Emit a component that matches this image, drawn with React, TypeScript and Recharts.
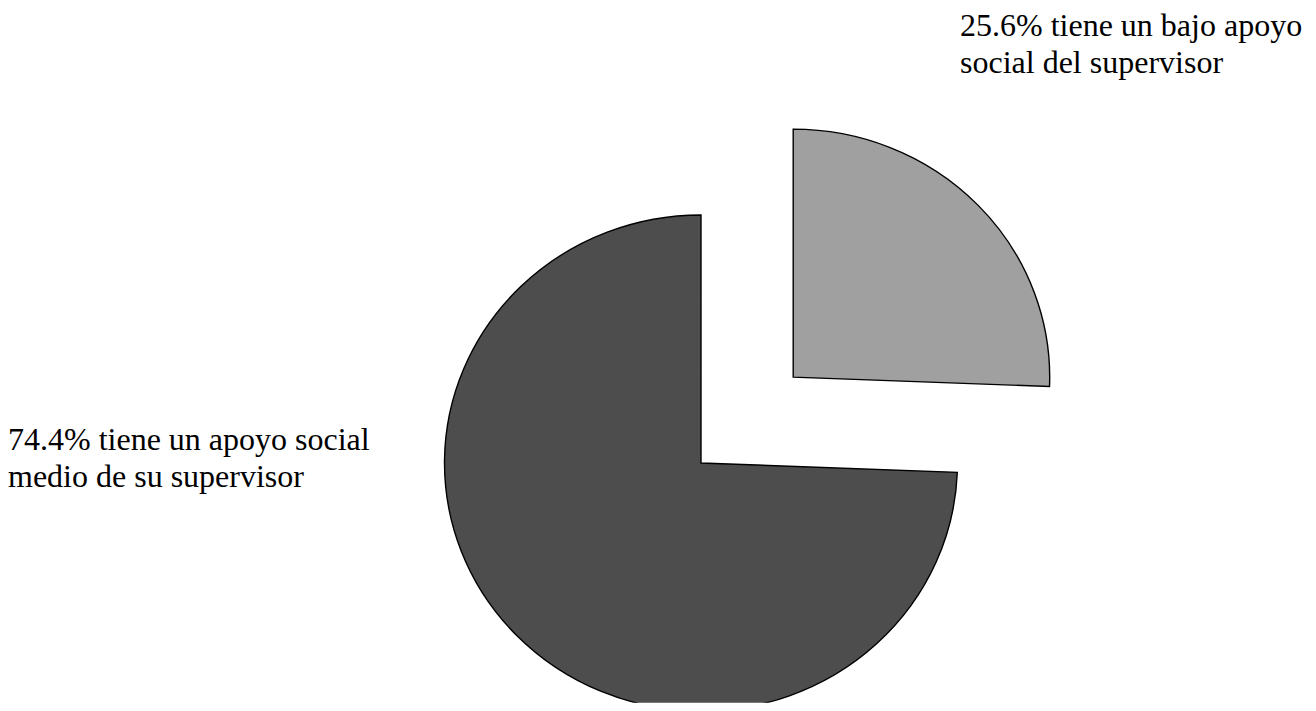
import { Cell, Pie, PieChart } from 'recharts'

const categories = ['Apoyo social bajo', 'Apoyo social medio']
const values = [25.6, 74.4]
const sliceColors = ['#a0a0a0', '#4d4d4d']
const labelLines = [
  ['25.6% tiene un bajo apoyo', 'social del supervisor'],
  ['74.4% tiene un apoyo social', 'medio de su supervisor'],
]

const data = categories.map((name, i) => ({ name, value: values[i] }))

const W = 1316
const H = 711
const CX = 701
const CY = 463
const RADIUS = 256.5
const EXPLODE = 128

// the first slice is pulled out along its middle angle
const total = values.reduce((a, b) => a + b, 0)
const midAngle = 90 - (values[0] / total) * 180
const rad = (midAngle * Math.PI) / 180
const cxOut = CX + EXPLODE * Math.cos(rad)
const cyOut = CY - EXPLODE * Math.sin(rad)

const textStyle: React.CSSProperties = {
  position: 'absolute',
  fontFamily: '"Liberation Serif", "Times New Roman", serif',
  fontSize: 32,
  lineHeight: '36.5px',
  color: '#000',
  whiteSpace: 'nowrap',
}

export default function App() {
  return (
    <div style={{ position: 'absolute', left: 0, top: 0, width: W, height: H, background: '#fff' }}>
      <div
        style={{
          position: 'absolute',
          left: 0,
          top: 0,
          transform: `scaleY(${248 / 256.5})`,
          transformOrigin: `0 ${CY}px`,
        }}
      >
        <PieChart width={W} height={H} margin={{ top: 0, right: 0, bottom: 0, left: 0 }}>
          <Pie
            data={data}
            dataKey="value"
            cx={CX}
            cy={CY}
            outerRadius={RADIUS}
            startAngle={90}
            endAngle={-270}
            isAnimationActive={false}
          >
            {data.map((d, i) => (
              <Cell
                key={d.name}
                fill={i === 0 ? 'none' : sliceColors[i]}
                stroke={i === 0 ? 'none' : '#000'}
                strokeWidth={1.4}
              />
            ))}
          </Pie>
          <Pie
            data={data}
            dataKey="value"
            cx={cxOut}
            cy={cyOut}
            outerRadius={RADIUS}
            startAngle={90}
            endAngle={-270}
            isAnimationActive={false}
          >
            {data.map((d, i) => (
              <Cell
                key={d.name}
                fill={i === 0 ? sliceColors[i] : 'none'}
                stroke={i === 0 ? '#000' : 'none'}
                strokeWidth={1.4}
              />
            ))}
          </Pie>
        </PieChart>
      </div>
      <div style={{ ...textStyle, left: 960, top: 7 }}>
        {labelLines[0].map((t) => (
          <div key={t}>{t}</div>
        ))}
      </div>
      <div style={{ ...textStyle, left: 8, top: 421 }}>
        {labelLines[1].map((t) => (
          <div key={t}>{t}</div>
        ))}
      </div>
    </div>
  )
}
